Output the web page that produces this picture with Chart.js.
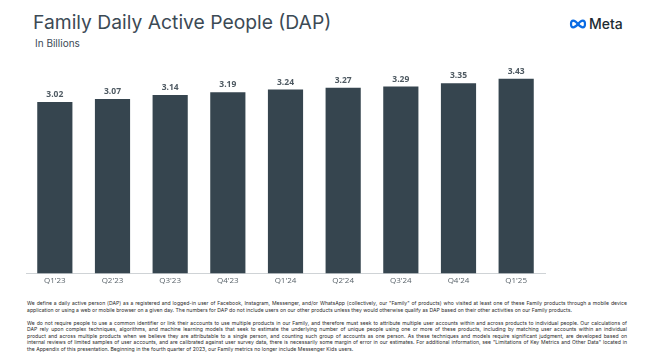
<!DOCTYPE html>
<html>
<head>
<meta charset="utf-8">
<script src="https://cdn.jsdelivr.net/npm/chart.js@4.4.1/dist/chart.umd.min.js"></script>
<style>
  body { margin: 0; width: 660px; height: 354px; background: #fff; position: relative; overflow: hidden; font-family: 'Inter', 'Open Sans', sans-serif; }
  #title { position: absolute; left: 33px; top: 10px; font-size: 19.3px; color: #3c4a55; font-weight: 400; white-space: nowrap; }
  #sub { position: absolute; left: 35px; top: 37px; font-size: 10px; color: #3c4a55; }
  #logo { position: absolute; left: 568px; top: 15px; display: flex; align-items: center; }
  #logo span { font-size: 14px; color: #1c2b33; font-weight: 500; margin-left: 1px; }
  #wrap { position: absolute; left: 0; top: 0; width: 660px; height: 292px; }
  #notes { position: absolute; left: 27px; top: 300px; width: 600px; font-size: 5.1px; line-height: 6.6px; color: #2a2a2a; letter-spacing: 0.02px; }
  #notes p { margin: 0 0 6.4px 0; }
  #notes span { display: block; white-space: nowrap; text-align: justify; text-align-last: justify; }
  #notes span.end { text-align-last: left; }
</style>
</head>
<body>
<div id="title">Family Daily Active People (DAP)</div>
<div id="sub">In Billions</div>
<div id="logo">
  <svg width="20" height="12" viewBox="0 0 20 12">
    <path d="M3 6 C3 1.5, 6.5 1.5, 10 6 C13.5 10.5, 17 10.5, 17 6 C17 1.5, 13.5 1.5, 10 6 C6.5 10.5, 3 10.5, 3 6 Z" fill="none" stroke="#0a6be3" stroke-width="2.2"/>
  </svg>
  <span>Meta</span>
</div>
<div id="wrap"><canvas id="bar-chart"></canvas></div>
<div id="notes">
<p><span>We define a daily active person (DAP) as a registered and logged-in user of Facebook, Instagram, Messenger, and/or WhatsApp (collectively, our "Family" of products) who visited at least one of these Family products through a mobile device</span><span class="end">application or using a web or mobile browser on a given day. The numbers for DAP do not include users on our other products unless they would otherwise qualify as DAP based on their other activities on our Family products.</span></p>
<p><span>We do not require people to use a common identifier or link their accounts to use multiple products in our Family, and therefore must seek to attribute multiple user accounts within and across products to individual people. Our calculations of</span><span>DAP rely upon complex techniques, algorithms, and machine learning models that seek to estimate the underlying number of unique people using one or more of these products, including by matching user accounts within an individual</span><span>product and across multiple products when we believe they are attributable to a single person, and counting such group of accounts as one person. As these techniques and models require significant judgment, are developed based on</span><span>internal reviews of limited samples of user accounts, and are calibrated against user survey data, there is necessarily some margin of error in our estimates. For additional information, see "Limitations of Key Metrics and Other Data" located in</span><span class="end">the Appendix of this presentation. Beginning in the fourth quarter of 2023, our Family metrics no longer include Messenger Kids users.</span></p>
</div>
<script>
// datos del grafico
const quarters = ["Q1'23", "Q2'23", "Q3'23", "Q4'23", "Q1'24", "Q2'24", "Q3'24", "Q4'24", "Q1'25"];
const dapValues = [3.02, 3.07, 3.14, 3.19, 3.24, 3.27, 3.29, 3.35, 3.43];

// etiquetas encima de cada barra
const valueLabels = {
    id: 'valueLabels',
    afterDatasetsDraw(chart) {
        const ctx = chart.ctx;
        const meta = chart.getDatasetMeta(0);
        ctx.save();
        ctx.font = 'bold 8.5px "Open Sans", sans-serif';
        ctx.fillStyle = '#4f5a62';
        ctx.textAlign = 'center';
        ctx.textBaseline = 'bottom';
        meta.data.forEach((bar, i) => {
            ctx.fillText(dapValues[i].toFixed(2), bar.x, bar.y - 3);
        });
        ctx.restore();
    }
};

const ctx = document.getElementById('bar-chart').getContext('2d');
const myChart = new Chart(ctx, {
    type: 'bar',
    data: {
        labels: quarters,
        datasets: [{
            label: 'DAP',
            data: dapValues,
            backgroundColor: '#36454f',
            borderWidth: 0,
            barPercentage: 0.61,
            categoryPercentage: 1
        }]
    },
    options: {
        responsive: true,
        maintainAspectRatio: false,
        animation: false,
        layout: {
            padding: { left: 26, right: 115, top: 69, bottom: 3 }
        },
        scales: {
            x: {
                grid: { display: false, drawTicks: false },
                border: { display: true, color: '#cfd3d6', width: 1 },
                ticks: {
                    color: '#5a646b',
                    font: { size: 8, family: '"Open Sans", sans-serif' },
                    padding: 3
                }
            },
            y: {
                display: false,
                min: 0,
                max: 3.6
            }
        },
        plugins: {
            legend: { display: false },
            tooltip: { enabled: false }
        }
    },
    plugins: [valueLabels]
});
</script>
</body>
</html>
